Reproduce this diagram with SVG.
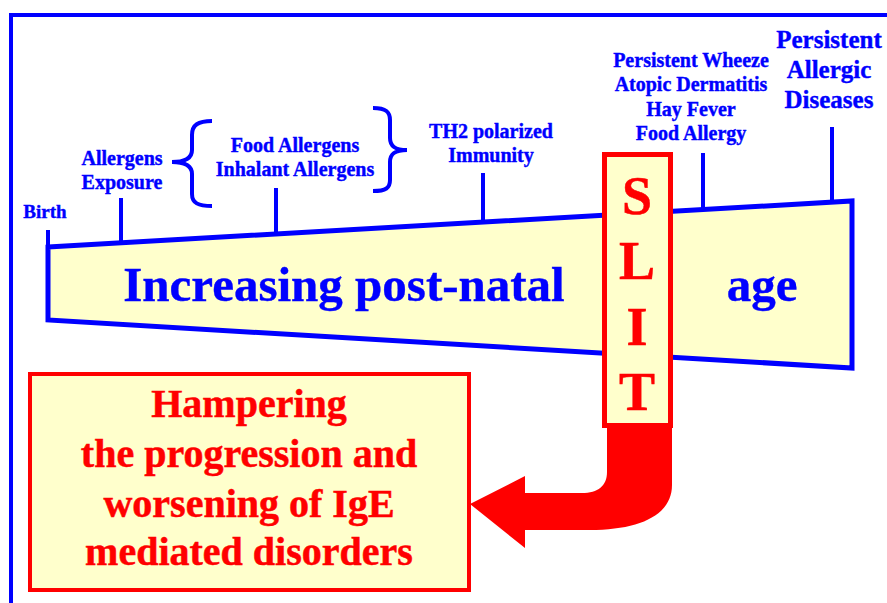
<svg xmlns="http://www.w3.org/2000/svg" width="887" height="603" viewBox="0 0 887 603">
<style>
.b{fill:#0000FF;stroke:#0000FF;stroke-width:0.4;font-family:"Liberation Serif","Times New Roman",serif;font-weight:bold;text-anchor:middle}
.r{fill:#FF0000;stroke:#FF0000;stroke-width:0.5;font-family:"Liberation Serif","Times New Roman",serif;font-weight:bold;text-anchor:middle}
.tick{stroke:#0000FF;stroke-width:4;fill:none}
</style>
<rect width="887" height="603" fill="#FFFFFF"/>
<rect x="11" y="15" width="900" height="700" fill="none" stroke="#0000FF" stroke-width="4"/>
<g id="timeline">
<polygon points="48,247 852,201 852,368 48,320" fill="#FFFFCC" stroke="#0000FF" stroke-width="5"/>
<text class="b" x="344" y="301" font-size="49">Increasing post-natal</text>
<text class="b" x="762" y="301" font-size="49">age</text>
</g>
<g id="connectors">
<line class="tick" x1="48" y1="230" x2="48" y2="247"/>
<line class="tick" x1="121" y1="198" x2="121" y2="243"/>
<line class="tick" x1="276" y1="188" x2="276" y2="234"/>
<line class="tick" x1="483" y1="173" x2="483" y2="222"/>
<line class="tick" x1="703" y1="153" x2="703" y2="209"/>
<line class="tick" x1="832" y1="127" x2="832" y2="202"/>
<path class="tick" d="M212,121 C198,121 192,125 192,135 L192,150 C192,158 185,162 172,162 C185,162 192,166 192,174 L192,194 C192,203 198,206 212,206"/>
<path class="tick" d="M373,108 C386,108 390,112 390,120 L390,138 C390,146 395,150 407,150 C395,150 390,154 390,162 L390,180 C390,188 386,191 373,191"/>
</g>
<g id="birth"><text class="b" x="45" y="218" font-size="19">Birth</text></g>
<g id="allergens-exposure"><text class="b" x="122" y="165" font-size="20">Allergens</text><text class="b" x="122" y="189" font-size="20">Exposure</text></g>
<g id="food-inhalant"><text class="b" x="295" y="152" font-size="20">Food Allergens</text><text class="b" x="295" y="176" font-size="20">Inhalant Allergens</text></g>
<g id="th2"><text class="b" x="491" y="138" font-size="20">TH2 polarized</text><text class="b" x="491" y="162" font-size="20">Immunity</text></g>
<g id="diseases"><text class="b" x="691" y="67" font-size="20">Persistent Wheeze</text><text class="b" x="691" y="91" font-size="20">Atopic Dermatitis</text><text class="b" x="691" y="116" font-size="20">Hay Fever</text><text class="b" x="691" y="140" font-size="20">Food Allergy</text></g>
<g id="persistent-allergic"><text class="b" x="829" y="48" font-size="25">Persistent</text><text class="b" x="829" y="78" font-size="25">Allergic</text><text class="b" x="829" y="108" font-size="25">Diseases</text></g>
<g id="slit">
<path d="M607,423 L672,423 L672,485 C672,515 640,530 590,530 L525,530 L525,548 L470,504 L525,476 L525,493 L582,493 C598,493 607,486 607,472 Z" fill="#FF0000"/>
<rect x="604.5" y="154.5" width="66" height="271" fill="#FFFFCC" stroke="#FF0000" stroke-width="5"/>
<text class="r" x="637" y="214" font-size="54">S</text>
<text class="r" x="637" y="279" font-size="54">L</text>
<text class="r" x="637" y="345" font-size="54">I</text>
<text class="r" x="637" y="410" font-size="54">T</text>
</g>
<g id="hampering">
<rect x="30" y="374" width="439" height="216" fill="#FFFFCC" stroke="#FF0000" stroke-width="4"/>
<text class="r" x="249" y="417" font-size="40">Hampering</text>
<text class="r" x="249" y="467" font-size="40">the progression and</text>
<text class="r" x="249" y="517" font-size="40">worsening of IgE</text>
<text class="r" x="249" y="565" font-size="40">mediated disorders</text>
</g>
</svg>
